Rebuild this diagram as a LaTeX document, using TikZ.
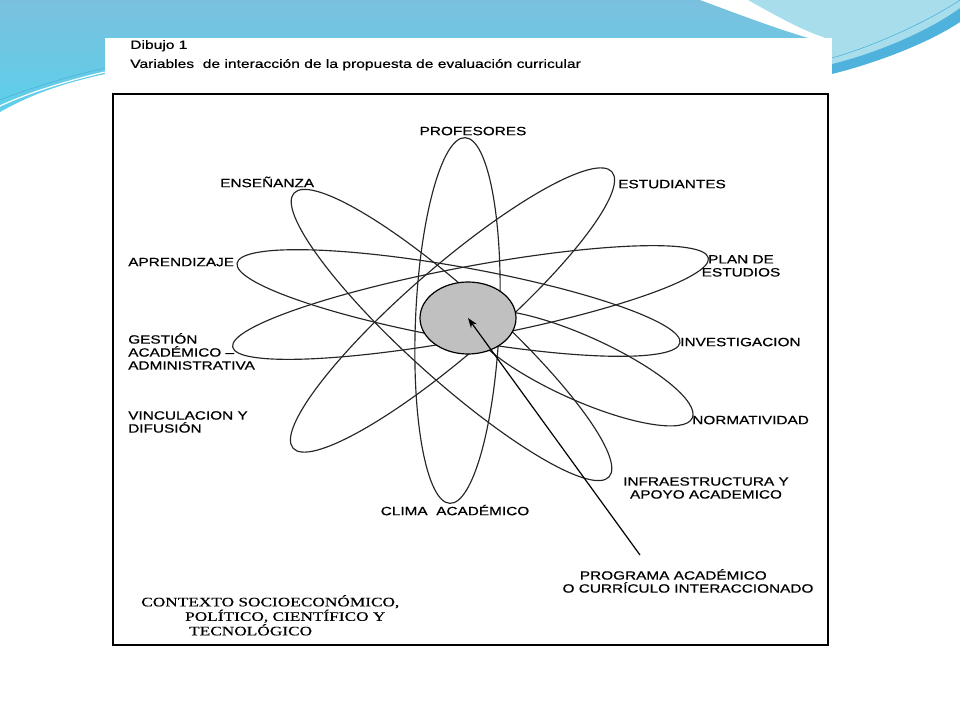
\documentclass[tikz,border=0pt]{standalone}
\usepackage{fontspec}
\setmainfont{Liberation Sans}
\newfontfamily\lblfont{Liberation Sans}[FakeBold=0.5]
\newfontfamily\ctxfont{Liberation Serif}[FakeBold=0.3]
\usepackage{tikz}
\usetikzlibrary{arrows.meta,shapes.geometric}
\definecolor{slideblue}{RGB}{122,192,222}
\definecolor{slidecyan}{RGB}{92,208,234}
\definecolor{slidelight}{RGB}{168,222,236}
\definecolor{slidedeep}{RGB}{78,178,220}
\definecolor{hubgray}{RGB}{192,192,192}

\begin{document}
\begin{tikzpicture}[x=1pt,y=-1pt,
  petal/.style={line width=1.15pt,black!85},
  lbl/.style={font=\lblfont\fontsize{12}{13}\selectfont,inner sep=0pt,xscale=1.28,
    execute at begin node={\rule{0pt}{12pt}}},
  ttl/.style={font=\lblfont\fontsize{12}{19}\selectfont,inner sep=0pt,xscale=1.3,
    execute at begin node={\rule{0pt}{12pt}}},
  ctx/.style={font=\ctxfont\fontsize{13}{14.5}\selectfont,inner sep=0pt,xscale=1.33,
    execute at begin node={\rule{0pt}{13pt}}},
  hub/.style={ellipse,draw,line width=1.2pt,fill=hubgray,minimum width=96pt,minimum height=72pt}]
\useasboundingbox (0,0) rectangle (960,720);
% slide backdrop
\fill[white] (0,0) rectangle (960,720);
\shade[top color=slideblue,bottom color=slidecyan] (0,0) -- (700,0) .. controls (740,15) and (780,30) .. (815,40) -- (105,40) -- (105,74) .. controls (60,84) and (30,95) .. (0,112) -- cycle;
\fill[slidelight] (748,0) .. controls (780,18) and (805,32) .. (832,40) -- (832,64) .. controls (880,52) and (930,30) .. (960,8) -- (960,0) -- cycle;
\fill[slidedeep] (832,64) .. controls (880,52) and (930,30) .. (960,8) -- (960,22) .. controls (930,42) and (880,62) .. (832,74) -- cycle;
\draw[slidedeep,line width=0.6pt] (832,58) .. controls (880,44) and (930,20) .. (960,0);
\draw[white,line width=1.2pt] (0,106) .. controls (30,92) and (70,80) .. (105,72);
\draw[slidedeep,line width=0.6pt] (0,100) .. controls (30,88) and (70,76) .. (105,68);
% page and frame
\fill[white] (105,38) rectangle (832,650);
\draw[line width=1.4pt] (113,94) rectangle (828,645);
\node[ttl,anchor=north west,align=left] (title) at (130,40) {Dibujo 1\\Variables~ de interacción de la propuesta de evaluación curricular};
% petals
\draw[petal,rotate around={87.6:(457.5,320.5)}] (457.5,320.5) ellipse [x radius=183pt,y radius=42pt];
\draw[petal,rotate around={-42:(451.5,335)}] (451.5,335) ellipse [x radius=212pt,y radius=44pt];
\draw[petal,rotate around={40.9:(452.5,310)}] (452.5,310) ellipse [x radius=211pt,y radius=44pt];
\draw[petal,rotate around={-10.2:(458.5,303)}] (458.5,303) ellipse [x radius=225pt,y radius=36pt];
\draw[petal,rotate around={10.6:(470.5,302.5)}] (470.5,302.5) ellipse [x radius=242pt,y radius=36pt];
\draw[petal,rotate around={-24.2:(581,368)}] (581,368) ellipse [x radius=122pt,y radius=32pt];
\node[hub] (hub) at (468,318) {};
% labels
\node[lbl,anchor=north] (prof) at (473,123) {PROFESORES};
\node[lbl,anchor=north west] (ense) at (220,175) {ENSEÑANZA};
\node[lbl,anchor=north west] (estu) at (618,176) {ESTUDIANTES};
\node[lbl,anchor=north west] (apre) at (128,254) {APRENDIZAJE};
\node[lbl,anchor=north,align=center] (plan) at (741,255) {PLAN DE\\ESTUDIOS};
\node[lbl,anchor=north west,align=left] (gest) at (128,333) {GESTIÓN\\ACADÉMICO –\\ADMINISTRATIVA};
\node[lbl,anchor=north west] (inve) at (680,334) {INVESTIGACION};
\node[lbl,anchor=north west,align=left] (vinc) at (128,411) {VINCULACION Y\\DIFUSIÓN};
\node[lbl,anchor=north west] (norm) at (692,412) {NORMATIVIDAD};
\node[lbl,anchor=north,align=center] (infra) at (706,477) {INFRAESTRUCTURA Y\\APOYO ACADEMICO};
\node[lbl,anchor=north] (clima) at (455,503) {CLIMA~ ACADÉMICO};
\node[lbl,anchor=north,align=center] (prog) at (688,569) {PROGRAMA ACADÉMICO\hspace*{23pt}\\O CURRÍCULO INTERACCIONADO};
\node[ctx,anchor=north west,align=left] (ctx) at (141,595) {CONTEXTO SOCIOECONÓMICO,\\\hspace*{33pt}POLÍTICO, CIENTÍFICO Y\\\hspace*{36pt}TECNOLÓGICO};
% arrow into the hub
\coordinate (tail) at (640,555);
\draw[line width=1.2pt,-{Stealth[length=10pt,width=7pt]}] (tail) -- (hub.center);
\end{tikzpicture}
\end{document}
